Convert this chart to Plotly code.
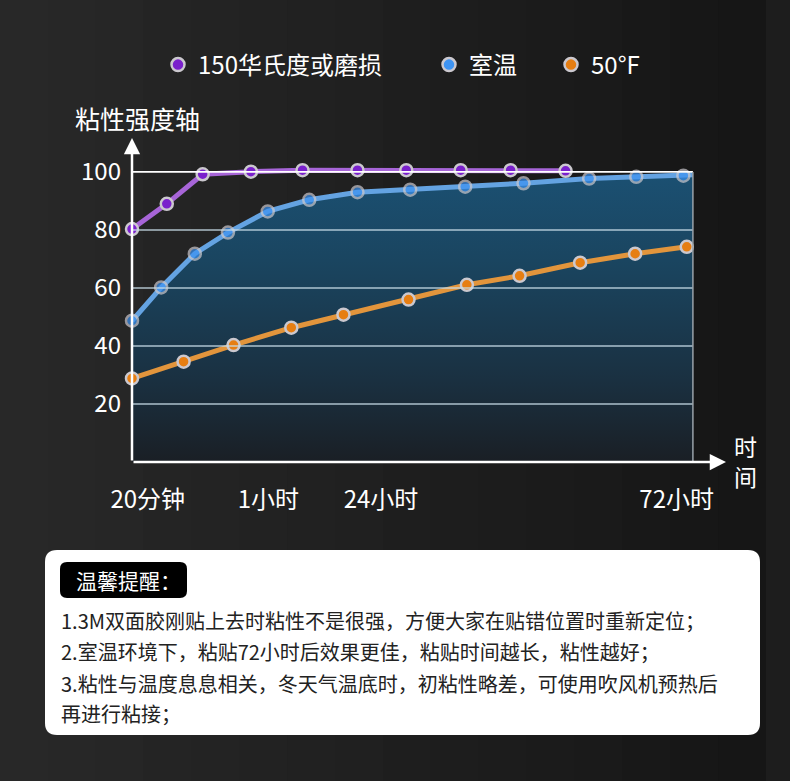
import plotly.graph_objects as go

W, H = 790, 781
FONT = "Noto Sans CJK SC"

# 数据（横轴为示意时间位置，0 = 20分钟 起点，100 = 右边框）
purple_x = [0, 6.2, 12.6, 21.2, 30.4, 40.2, 48.9, 58.6, 67.5, 77.3]
purple_y = [80.3, 89.0, 99.2, 100.1, 100.6, 100.6, 100.6, 100.6, 100.6, 100.4]

# the 室温 line runs on to the right border after its last dot
blue_x = [0, 5.2, 11.2, 17.1, 24.2, 31.6, 40.2, 49.6, 59.4, 69.8, 81.5, 89.9, 98.3, 100]
blue_y = [48.7, 60.2, 71.8, 79.1, 86.4, 90.4, 93.0, 93.9, 94.9, 96.1, 97.7, 98.3, 98.7, 99.0]
blue_dots = [True] * 13 + [False]

orange_x = [0, 9.2, 18.1, 28.4, 37.7, 49.3, 59.7, 69.1, 79.9, 89.7, 98.9]
orange_y = [28.8, 34.6, 40.3, 46.3, 50.8, 56.0, 61.1, 64.2, 68.7, 71.8, 74.2]

series_names = ["150华氏度或磨损", "室温", "50°F"]

x_tick_vals = [2.8, 24.3, 44.4, 97.1]
x_tick_text = ["20分钟", "1小时", "24小时", "72小时"]
y_tick_vals = [20, 40, 60, 80, 100]

tips = [
    "1.3M双面胶刚贴上去时粘性不是很强，方便大家在贴错位置时重新定位；",
    "2.室温环境下，粘贴72小时后效果更佳，粘贴时间越长，粘性越好；",
    "3.粘性与温度息息相关，冬天气温底时，初粘性略差，可使用吹风机预热后",
    "再进行粘接；",
]


def px_x(x):
    return x / W


def px_y(y):
    return 1 - y / H


def rounded_rect(x0, y0, x1, y1, r):
    # pixel coords -> paper path
    def p(x, y):
        return f"{px_x(x):.5f},{px_y(y):.5f}"
    return (
        f"M {p(x0 + r, y0)} L {p(x1 - r, y0)} Q {p(x1, y0)} {p(x1, y0 + r)} "
        f"L {p(x1, y1 - r)} Q {p(x1, y1)} {p(x1 - r, y1)} "
        f"L {p(x0 + r, y1)} Q {p(x0, y1)} {p(x0, y1 - r)} "
        f"L {p(x0, y0 + r)} Q {p(x0, y0)} {p(x0 + r, y0)} Z"
    )


def label(x, y, text, size, color="white", xanchor="center"):
    return dict(x=px_x(x), y=px_y(y), xref="paper", yref="paper", text=text,
                xanchor=xanchor, yanchor="middle", showarrow=False,
                font=dict(size=size, color=color, family=FONT))


marker_border = dict(color="#cbc8ce", width=2.5)

fig = go.Figure()

# 室温 filled area
fig.add_trace(go.Scatter(
    x=blue_x, y=blue_y, mode="lines+markers", fill="tozeroy",
    fillgradient=dict(type="vertical", colorscale=[
        [0, "#1a1f25"], [0.3, "#1a3142"], [0.7, "#1a4560"], [1, "#1b5072"]]),
    line=dict(color="#64a3e2", width=5),
    marker=dict(size=[12 if d else 0 for d in blue_dots], color="#3d93f2",
                line=dict(color="#cbc8ce", width=[2.5 if d else 0 for d in blue_dots])),
    showlegend=False, cliponaxis=False,
))
fig.add_trace(go.Scatter(
    x=orange_x, y=orange_y, mode="lines+markers",
    line=dict(color="#e2953c", width=5),
    marker=dict(size=12, color="#e67e12", line=marker_border),
    showlegend=False, cliponaxis=False,
))
fig.add_trace(go.Scatter(
    x=purple_x, y=purple_y, mode="lines+markers",
    line=dict(color="#a765d8", width=5),
    marker=dict(size=12, color="#7a20cc", line=marker_border),
    showlegend=False, cliponaxis=False,
))

# legend entries (markers only)
legend_colors = ["#7a20cc", "#3d93f2", "#e67e12"]
legend_ids = ["legend", "legend2", "legend3"]
for name, col, lid in zip(series_names, legend_colors, legend_ids):
    fig.add_trace(go.Scatter(
        x=[None], y=[None], mode="markers", name=name, legend=lid,
        marker=dict(size=13, color=col, line=marker_border),
    ))

legend_style = dict(orientation="h", yanchor="middle", xanchor="left",
                    bgcolor="rgba(0,0,0,0)", font=dict(size=24, color="white", family=FONT))
legend_pos = [158, 429, 551]

shapes = []
# background: lighter on the left, darker to the right
n_bands = 16
for i in range(n_bands):
    g = round(40 - 18 * i / (n_bands - 1))
    shapes.append(dict(type="rect", xref="paper", yref="paper", layer="below",
                       x0=px_x(766 * i / n_bands), x1=px_x(766 * (i + 1) / n_bands) + 0.001,
                       y0=0, y1=1, fillcolor=f"rgb({g},{g},{g})", line=dict(width=0)))
shapes.append(dict(type="rect", xref="paper", yref="paper", layer="below",
                   x0=px_x(766), x1=1, y0=0, y1=1,
                   fillcolor="#1d1d1d", line=dict(width=0)))
for yv in y_tick_vals[:-1]:
    shapes.append(dict(type="line", xref="x", yref="y", x0=0, x1=100, y0=yv, y1=yv,
                       line=dict(color="rgba(200,220,232,0.85)", width=1.5)))
shapes.append(dict(type="line", xref="x", yref="y", x0=0, x1=100, y0=100, y1=100,
                   line=dict(color="white", width=1.8)))
shapes.append(dict(type="line", xref="x", yref="y", x0=100, x1=100, y0=0, y1=100,
                   line=dict(color="#9aa3aa", width=1.5)))
# tips box
shapes.append(dict(type="path", xref="paper", yref="paper", layer="below",
                   path=rounded_rect(45, 550, 760, 735, 12),
                   fillcolor="white", line=dict(width=0)))
shapes.append(dict(type="path", xref="paper", yref="paper",
                   path=rounded_rect(60, 562, 187, 598, 7),
                   fillcolor="black", line=dict(width=0)))

annotations = [
    # axes with arrows
    dict(x=0, y=111.7, ax=0, ay=0, xref="x", yref="y", axref="x", ayref="y",
         text="", showarrow=True, arrowhead=2, arrowsize=1.3, arrowwidth=2.5,
         arrowcolor="white", standoff=0),
    dict(x=105.9, y=0, ax=0, ay=0, xref="x", yref="y", axref="x", ayref="y",
         text="", showarrow=True, arrowhead=2, arrowsize=1.3, arrowwidth=2.5,
         arrowcolor="white", standoff=0),
    label(137, 118, "粘性强度轴", 25),
    label(745, 446, "时", 23),
    label(745, 476, "间", 23),
    label(74, 580, "温馨提醒：", 21, xanchor="left"),
]
for line_text, yc in zip(tips, [620, 651, 683, 713]):
    annotations.append(label(59, yc, line_text, 20, color="#222222", xanchor="left"))

layout_legends = {}
for lid, lx in zip(legend_ids, legend_pos):
    layout_legends[lid] = dict(legend_style, x=px_x(lx), y=px_y(65))

fig.update_layout(
    width=W, height=H,
    margin=dict(l=0, r=0, t=0, b=0),
    paper_bgcolor="#1b1b1b",
    plot_bgcolor="rgba(0,0,0,0)",
    font=dict(family=FONT, color="white"),
    xaxis=dict(domain=[px_x(132), px_x(726)], range=[0, 105.9], showgrid=False,
               zeroline=False, showline=False, tickvals=x_tick_vals, ticktext=x_tick_text,
               ticks="", ticklabelstandoff=21, automargin=False,
               tickfont=dict(size=24, color="white")),
    yaxis=dict(domain=[px_y(462), px_y(138)], range=[0, 111.7], showgrid=False,
               zeroline=False, showline=False, tickvals=y_tick_vals, ticks="",
               ticklabelstandoff=10, automargin=False,
               tickfont=dict(size=24, color="white")),
    shapes=shapes,
    annotations=annotations,
    **layout_legends,
)

fig.write_html("out.html", config={"displayModeBar": False},
               post_script="document.body.style.margin='0';"
               "document.body.style.background='#1b1b1b';")
